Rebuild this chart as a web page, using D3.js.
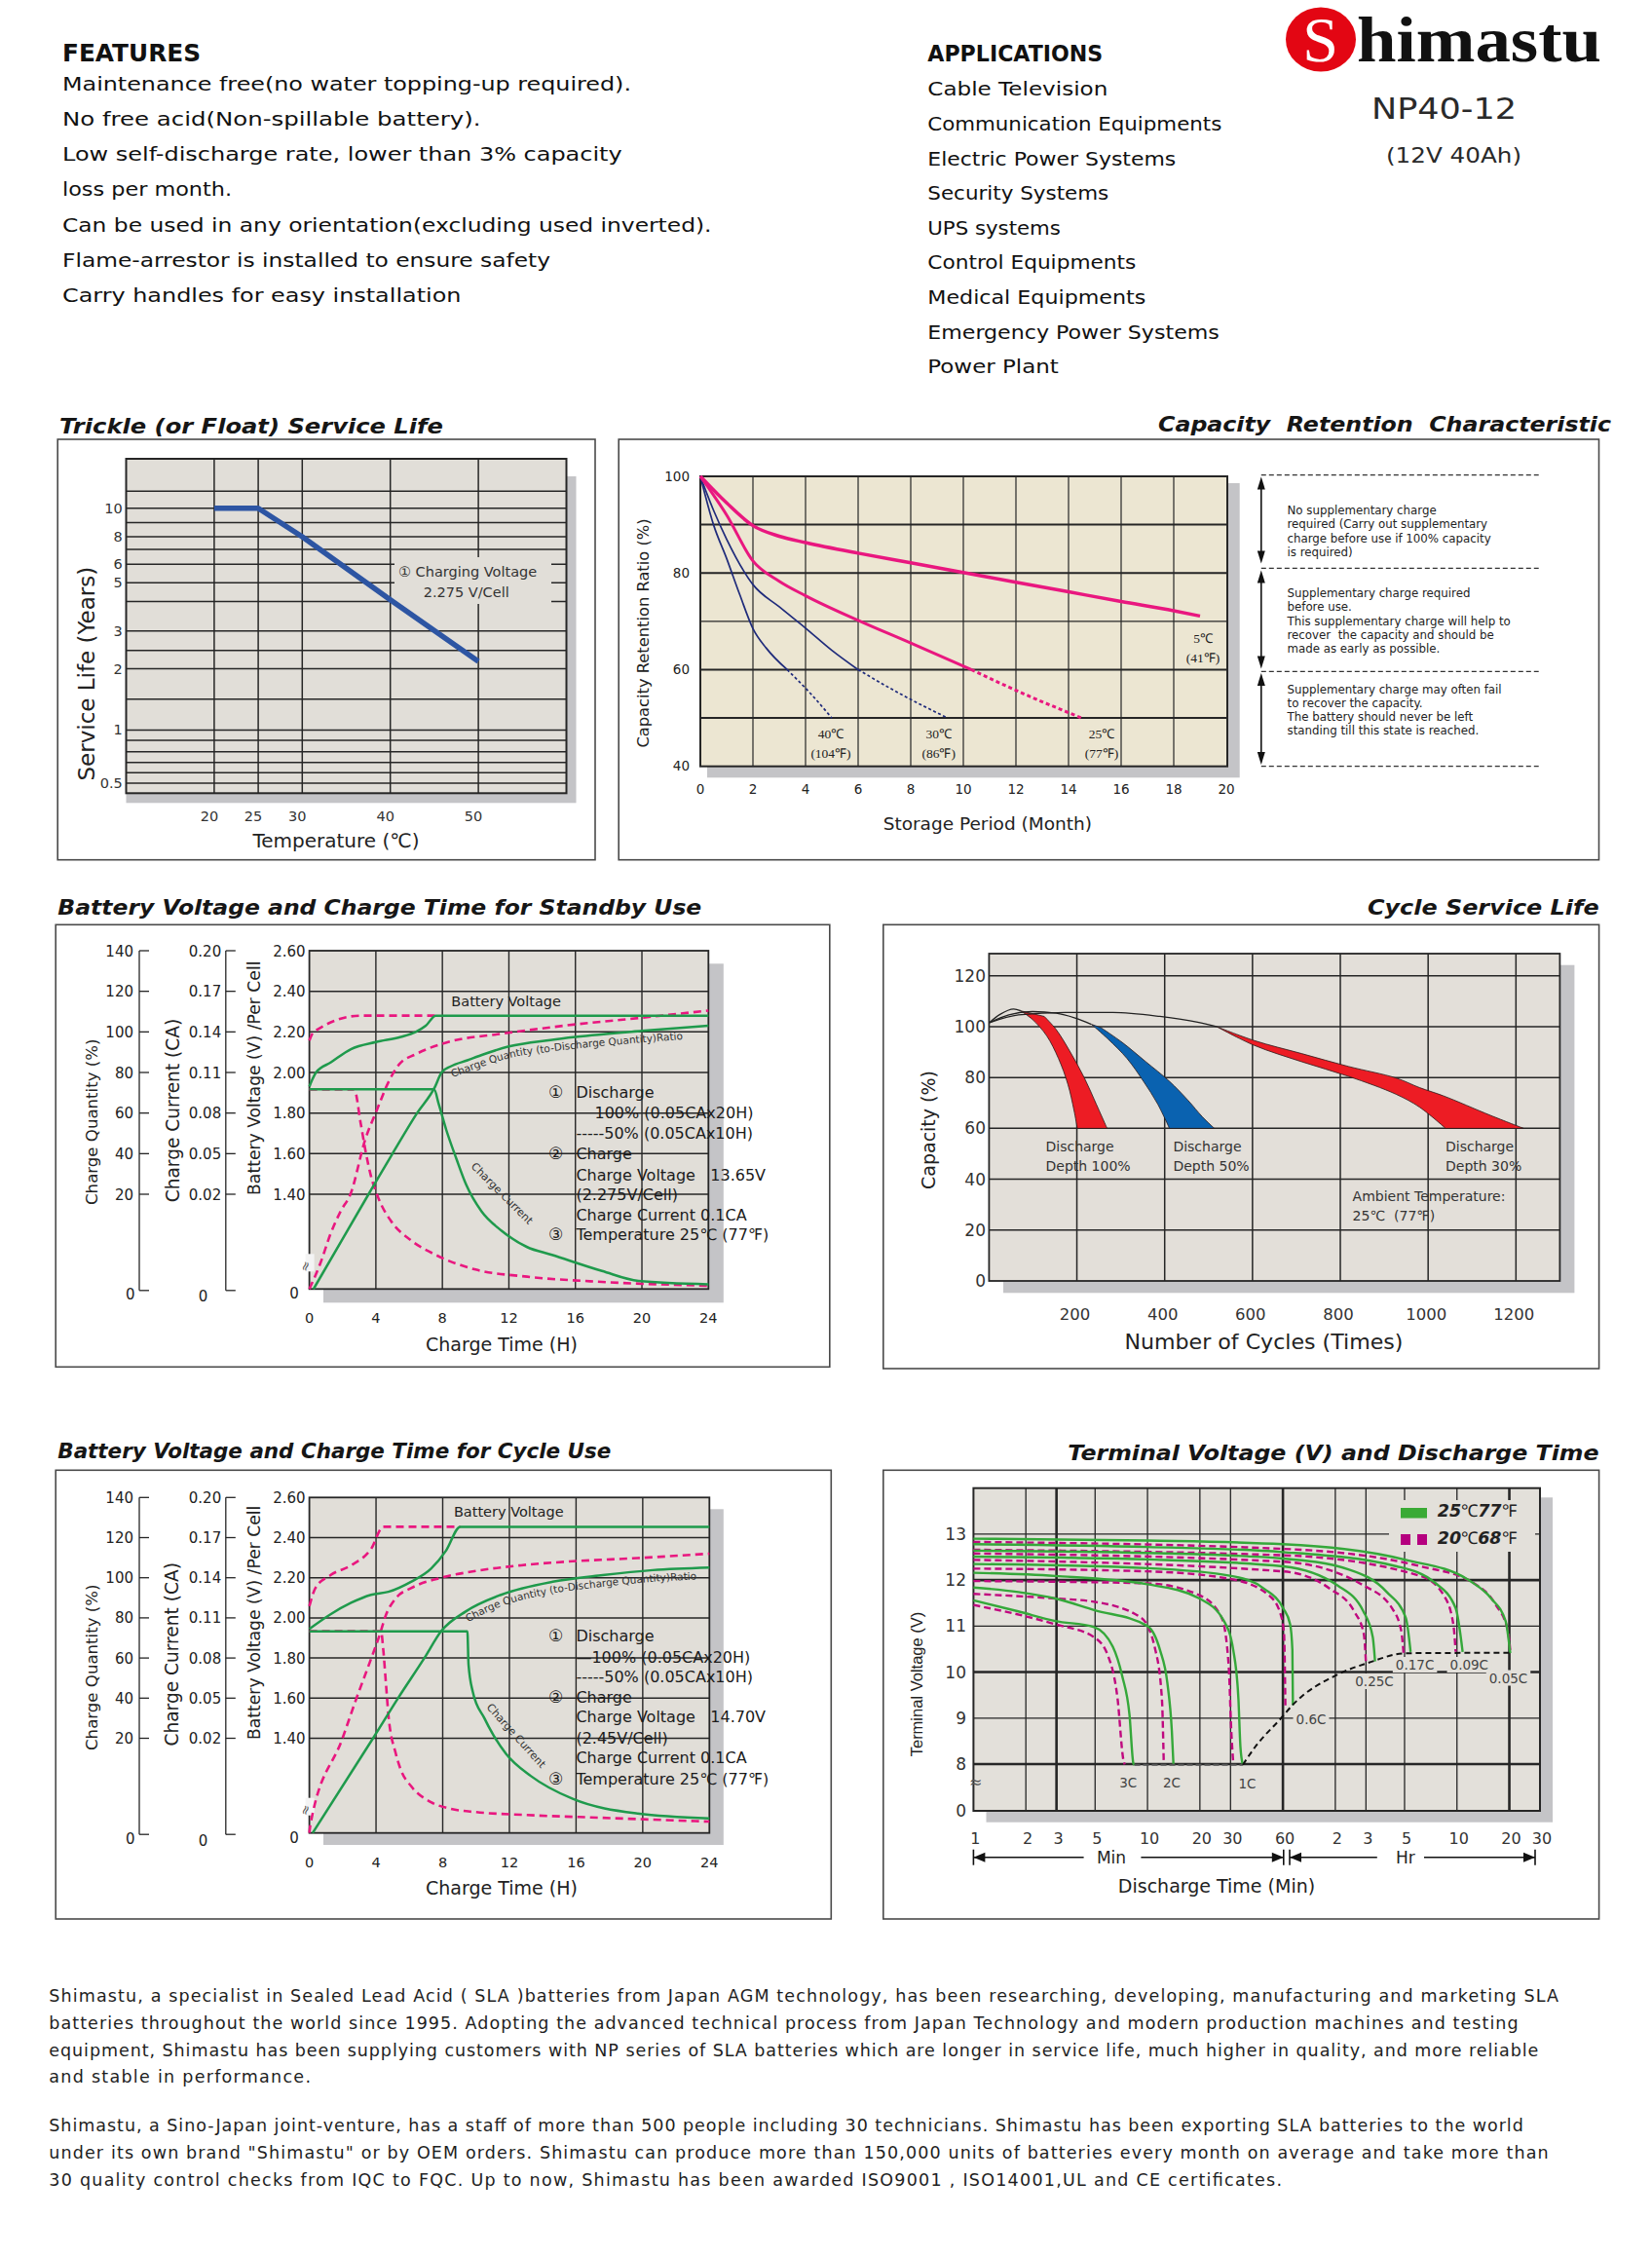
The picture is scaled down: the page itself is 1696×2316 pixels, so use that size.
<!DOCTYPE html>
<html>
<head>
<meta charset="utf-8">
<title>Shimastu NP40-12</title>
<script src="https://cdn.jsdelivr.net/npm/d3@7"></script>
<style>
html,body{margin:0;padding:0;background:#fff;}
svg{display:block;}
</style>
</head>
<body>
<svg id="page" width="1696" height="2316" xmlns="http://www.w3.org/2000/svg"></svg>
<script>
// ======================= DATA =======================
const featureLines = [
  'Maintenance free(no water topping-up required).',
  'No free acid(Non-spillable battery).',
  'Low self-discharge rate, lower than 3% capacity',
  'loss per month.',
  'Can be used in any orientation(excluding used inverted).',
  'Flame-arrestor is installed to ensure safety',
  'Carry handles for easy installation'
];
const applicationLines = ['Cable Television', 'Communication Equipments', 'Electric Power Systems',
  'Security Systems', 'UPS systems', 'Control Equipments', 'Medical Equipments',
  'Emergency Power Systems', 'Power Plant'];
const brandName = 'Shimastu';
const modelName = 'NP40-12';
const modelRating = '(12V 40Ah)';
const aboutParagraph1 = [
  'Shimastu, a specialist in Sealed Lead Acid ( SLA )batteries from Japan AGM technology, has been researching, developing, manufacturing and marketing SLA',
  'batteries throughout the world since 1995. Adopting the advanced technical process from Japan Technology and modern production machines and testing',
  'equipment, Shimastu has been supplying customers with NP series of SLA batteries which are longer in service life, much higher in quality, and more reliable',
  'and stable in performance.'
];
const aboutParagraph2 = [
  'Shimastu, a Sino-Japan joint-venture, has a staff of more than 500 people including 30 technicians. Shimastu has been exporting SLA batteries to the world',
  'under its own brand "Shimastu" or by OEM orders. Shimastu can produce more than 150,000 units of batteries every month on average and take more than',
  '30 quality control checks from IQC to FQC. Up to now, Shimastu has been awarded ISO9001 , ISO14001,UL and CE certificates.'
];

// --- Trickle (float) service life ---
const trickleTempTicks = [20, 25, 30, 40, 50];
const trickleLifeTicks = [10, 8, 6, 5, 3, 2, 1, 0.5];
const trickleLifeGrid = [0.5, 0.6, 0.7, 0.8, 0.9, 1, 1.5, 2, 2.5, 3, 4, 5, 6, 7, 8, 9, 10, 12];
const trickleTemp = [20, 25, 30, 40, 50];
const trickleLife = [10, 10, 8, 4.1, 2.2];

// --- Capacity retention (month, %) ---
const storageMonthTicks = [0, 2, 4, 6, 8, 10, 12, 14, 16, 18, 20];
const retentionTicks = [100, 80, 60, 40];
const retention5C = [[0,100],[1,94.5],[2,89.8],[3,87.6],[4,86.3],[6,84.1],[8,82.1],[10,80.1],[12,78.1],[14,76.1],[16,74.1],[18,72.2],[19,71.1]];
const retention25C = [[0,100],[1,92],[2,82.5],[3,78.3],[4,75.3],[6,70.2],[8,65.5],[10.3,60]];
const retention25CLate = [[10.3,60],[12.3,55],[14.5,50]];
const retention30C = [[0,100],[0.5,93],[1,87],[2,77.6],[3,73],[4,68.6],[5,64],[6,60]];
const retention30CLate = [[6,60],[7.6,55],[9.4,50]];
const retention40C = [[0,100],[0.5,90],[1,83],[1.5,75.5],[2,68.5],[2.5,64.5],[3.3,60]];
const retention40CLate = [[3.3,60],[4.2,55],[5,50]];
const retentionNotes = [
  ['No supplementary charge', 'required (Carry out supplementary', 'charge before use if 100% capacity', 'is required)'],
  ['Supplementary charge required', 'before use.', 'This supplementary charge will help to', 'recover  the capacity and should be', 'made as early as possible.'],
  ['Supplementary charge may often fail', 'to recover the capacity.', 'The battery should never be left', 'standing till this state is reached.']
];

// --- Charge charts: axes ---
const chargeTimeTicks = [0, 4, 8, 12, 16, 20, 24];
const chargeQtyTicks = [140, 120, 100, 80, 60, 40, 20];
const chargeCurrentTicks = [0.20, 0.17, 0.14, 0.11, 0.08, 0.05, 0.02];
const cellVoltTicks = [2.60, 2.40, 2.20, 2.00, 1.80, 1.60, 1.40];

// --- Standby use (hour, value) ---
const sbVolt100 = [[0,1.93],[0.15,1.96],[0.4,2.0],[1.3,2.05],[2.5,2.115],[4,2.15],[5.5,2.175],[6.4,2.2],[7,2.23],[7.6,2.28],[24,2.28]];
const sbVolt50 = [[0,2.157],[0.27,2.2],[3.1,2.28],[7.6,2.28]];
const sbQty100 = [[0.25,0],[3.56,20],[5.0,40],[6.48,60],[7.56,73],[7.95,80],[8.5,83],[9.5,86],[10.5,89],[12,92.8],[14.5,96],[16,97.5],[20,100.5],[24,103]];
const sbQty50 = [[0,0],[0.67,5.5],[1.27,11.6],[1.88,16.4],[2.48,20.2],[3.36,47],[4.05,61.3],[4.8,76],[5.4,84],[6.4,89],[8.5,95.3],[11.5,99],[16,103.7],[20,107],[24,110.5]];
const sbCur100 = [[0,0.0975],[7.5,0.0975],[7.78,0.0867],[8.23,0.0677],[8.84,0.0463],[9.44,0.0268],[10.35,0.0164],[11.56,0.0123],[13.07,0.0089],[14.59,0.0072],[17.6,0.0038],[19.8,0.0017],[24,0.001]];
const sbCur50 = [[0,0.0975],[2.7,0.0975],[3.09,0.0722],[3.39,0.0512],[3.69,0.0341],[4.15,0.0192],[4.9,0.0144],[6.1,0.0103],[7.6,0.0072],[10,0.0041],[13.1,0.0026],[17.6,0.0015],[24,0.0007]];

// --- Cycle use (hour, value) ---
const cuVolt100 = [[0,1.945],[1.27,2.018],[2.5,2.075],[3.7,2.115],[4.74,2.13],[6.1,2.18],[7.3,2.245],[8.2,2.335],[9.05,2.454],[24,2.454]];
const cuVolt50 = [[0,2.058],[0.36,2.148],[1.27,2.213],[2.5,2.262],[3.7,2.343],[4.44,2.454],[9.05,2.454]];
const cuQty100 = [[0.2,0],[3.82,20],[5.32,40],[6.9,60],[7.91,73.4],[9.4,83.3],[11.5,91.5],[14.6,98],[17.6,101.3],[20.6,103.8],[24,105.1]];
const cuQty50 = [[0,0],[0.06,1.7],[1.99,20],[2.83,40],[3.72,60],[4.29,73.4],[4.53,80],[5.19,89.8],[6.1,94.8],[7.9,100],[9.7,103],[12.7,106.2],[15.8,108.2],[19.7,109.8],[24,112]];
const cuCur100 = [[0,0.1],[9.48,0.1],[9.55,0.075],[9.8,0.055],[10.5,0.035],[11.8,0.0167],[13.3,0.012],[15.8,0.0072],[19.7,0.0041],[24,0.0031]];
const cuCur50 = [[0,0.1],[4.3,0.1],[4.44,0.0854],[4.59,0.0617],[4.74,0.0377],[5.19,0.0167],[5.49,0.0133],[6.1,0.0099],[7.3,0.0065],[8.5,0.0051],[10,0.0044],[13,0.0038],[17.6,0.0032],[24,0.0024]];

// --- Cycle service life (cycles, %) ---
const cycleTicks = [200, 400, 600, 800, 1000, 1200];
const cycleCapTicks = [0, 20, 40, 60, 80, 100, 120];
const envelope100 = [[0,101.5],[25,104.8],[56,106.9],[72,106.2]];
const envelope50 = [[0,101.5],[45,104.6],[99,105.9],[153,105.3],[196,103.4],[233,100.9]];
const envelope30 = [[0,101.5],[67,104.6],[174,105.6],[282,105.6],[389,104],[475,101.7],[518,100]];
const band100Early = [[72,106.2],[98.9,102.8],[131.2,96.4],[158,87.5],[179.6,77.3],[193.6,67],[201,60]];
const band100Late = [[125.8,104],[152.7,98.9],[185,90],[217.2,79.8],[244,69.6],[268.8,60]];
const band50Early = [[233.3,100.9],[271,95.1],[314,87.5],[351.6,78.5],[383.9,69.6],[410.8,60]];
const band50Late = [[254.8,99.6],[303.2,93.8],[357,86.2],[410.8,78.5],[453.8,70.9],[486,64.5],[513,60]];
const band30Early = [[518.3,100],[604.3,92.6],[711.8,86.2],[819.4,80.4],[926.9,73.4],[980.7,68.3],[1039.8,60]];
const band30Late = [[518.3,100],[604.3,94.5],[711.8,89.4],[819.4,84.3],[926.9,79.8],[980.7,76],[1034.4,72.8],[1142,65.1],[1217.2,60]];

// --- Terminal voltage vs discharge time (minutes, volts) ---
const minuteTicks = [1, 2, 3, 5, 10, 20, 30, 60, 120, 180, 300, 600, 1200, 1800];
const minuteTickLabels = ['1','2','3','5','10','20','30','60','2','3','5','10','20','30'];
const terminalVoltTicks = [13, 12, 11, 10, 9, 8];
const dischargeRates = ['3C', '2C', '1C', '0.6C', '0.25C', '0.17C', '0.09C', '0.05C'];
const discharge25C = [
  [[1,11.56],[1.81,11.32],[2.95,11.11],[4.93,10.98],[6.32,10.55],[7.16,9.91],[7.88,9.07],[8.29,8.02],[8.4,7.87]],
  [[1,11.84],[1.81,11.74],[2.95,11.6],[4.93,11.35],[10,11.0],[11.8,10.48],[13,9.77],[13.8,8.72],[14.1,7.87]],
  [[1,12.16],[2.95,12.09],[10,11.91],[19.9,11.6],[27.5,11.11],[31.1,10.48],[33.3,9.42],[34.2,8.37],[35.3,7.87]],
  [[1,12.35],[10,12.26],[30.3,12.09],[46.9,11.81],[60.2,11.39],[66,11.04],[68,10.48],[68.5,9.28]],
  [[1,12.51],[10,12.45],[60,12.3],[124,11.88],[174,11.32],[197,10.76],[203,10.23]],
  [[1,12.64],[10,12.59],[60,12.47],[144,12.23],[237,11.74],[305,11.18],[325,10.44]],
  [[1,12.78],[10,12.72],[60,12.61],[270,12.3],[446,11.95],[590,11.39],[647,10.44]],
  [[1,12.9],[10,12.86],[60,12.78],[305,12.44],[688,12.02],[944,11.6],[1142,11.11],[1214,10.41]]
];
const discharge20C = [
  [[1,11.46],[2.95,11.04],[4.93,10.76],[5.95,10.34],[6.73,9.42],[7.27,8.09],[7.4,7.95]],
  [[1,11.7],[2.95,11.6],[4.93,11.53],[9.2,11.18],[11.1,10.48],[12.1,9.42],[12.4,8.02]],
  [[1,11.98],[10,11.93],[19.9,11.67],[26.7,11.18],[29.3,10.12],[30.3,8.72],[31.1,8.02]],
  [[1,12.25],[10,12.19],[30.3,12.02],[49.9,11.67],[58.3,11.25],[60.9,10.83],[62,9.21]],
  [[1,12.44],[60,12.19],[112,11.81],[154,11.32],[175,10.83],[180,10.2]],
  [[1,12.58],[60,12.4],[175,11.88],[254,11.39],[287,10.9],[297,10.34]],
  [[1,12.66],[60,12.54],[370,12.09],[504,11.67],[572,11.04],[590,10.44]],
  [[1,12.83],[60,12.68],[370,12.3],[737,11.95],[1004,11.46],[1176,10.9],[1214,10.48]]
];
const cutoffHighRate = [[8.4,7.87],[35.3,7.87]];
const cutoffLowRate = [[35.3,7.87],[41.5,8.37],[58.6,9.0],[68,9.28],[124,9.95],[185,10.2],[305,10.41],[1214,10.42]];

// ======================= DRAWING =======================
const svg = d3.select('#page');
svg.append('rect').attr('width', 1696).attr('height', 2316).attr('fill', '#ffffff');

const SANS = "'DejaVu Sans', 'Noto Sans', sans-serif";
const ARIAL = "'Liberation Sans', Arial, sans-serif";
const SERIF = "'Liberation Serif', 'Times New Roman', serif";
const GRID = '#262626';
const BG_GRAY = '#e1ded8';
const BG_CREAM = '#ece6d2';
const SHADOW = '#c4c4c7';
const GREEN = '#1f9a4c';
const PINK = '#e9177f';
const NAVY = '#1f2b7b';

function txt(p, x, y, s, o = {}) {
  const t = p.append('text').attr('x', x).attr('y', y)
    .attr('font-family', o.family || SANS).attr('font-size', o.size || 14)
    .attr('fill', o.fill || '#1b1b1b').text(s);
  if (o.weight) t.attr('font-weight', o.weight);
  if (o.italic) t.attr('font-style', 'italic');
  if (o.anchor) t.attr('text-anchor', o.anchor);
  if (o.rotate) t.attr('transform', `rotate(${o.rotate},${x},${y})`);
  if (o.len) t.attr('textLength', o.len).attr('lengthAdjust', o.adjust || 'spacingAndGlyphs');
  if (o.pre) t.style('white-space', 'pre');
  return t;
}
function ln(p, x1, y1, x2, y2, o = {}) {
  const l = p.append('line').attr('x1', x1).attr('y1', y1).attr('x2', x2).attr('y2', y2)
    .attr('stroke', o.stroke || GRID).attr('stroke-width', o.width || 1.4);
  if (o.dash) l.attr('stroke-dasharray', o.dash);
  return l;
}
function rectXY(p, x0, y0, x1, y1, o = {}) {
  return p.append('rect').attr('x', x0).attr('y', y0).attr('width', x1 - x0).attr('height', y1 - y0)
    .attr('fill', o.fill || 'none').attr('stroke', o.stroke || 'none').attr('stroke-width', o.width || 1);
}
function panel(frame, title) {
  rectXY(svg, frame[0], frame[1], frame[2], frame[3], {stroke: '#4a4a4a', width: 1.6});
  txt(svg, title.x, title.y, title.text, {size: 21, weight: 'bold', italic: true, len: title.len, fill: '#161616', pre: true});
}
function plotArea(P, S, bg) {
  rectXY(svg, S[0], S[1], S[2], S[3], {fill: SHADOW});
  rectXY(svg, P.x0, P.y0, P.x1, P.y1, {fill: bg});
}
function plotBorder(P, w) {
  rectXY(svg, P.x0, P.y0, P.x1, P.y1, {stroke: GRID, width: w || 1.8});
}
function curve(p, gen, data, color, width, dash) {
  const path = p.append('path').attr('d', gen(data)).attr('fill', 'none')
    .attr('stroke', color).attr('stroke-width', width).attr('stroke-linejoin', 'round');
  if (dash) path.attr('stroke-dasharray', dash);
  return path;
}

// ---------------- Header ----------------
(function header() {
  txt(svg, 64, 63, 'FEATURES', {size: 24, weight: 'bold', len: 142, fill: '#111'});
  const featureLen = [584, 429.5, 574.7, 174, 666.5, 501, 409.4];
  featureLines.forEach((s, i) => txt(svg, 64, 92.7 + i * 36.2, s, {size: 20, len: featureLen[i], fill: '#111'}));
  txt(svg, 952.3, 62.7, 'APPLICATIONS', {size: 23, weight: 'bold', len: 180, fill: '#111'});
  const appLen = [185, 302, 255, 186, 136.6, 214, 224, 299.5, 134.5];
  applicationLines.forEach((s, i) => txt(svg, 952.3, 98.3 + i * 35.6, s, {size: 20, len: appLen[i], fill: '#111'}));
  svg.append('ellipse').attr('cx', 1356).attr('cy', 40.5).attr('rx', 36).attr('ry', 33).attr('fill', '#e30613');
  txt(svg, 1355.5, 62.5, brandName[0], {family: SERIF, size: 66, fill: '#ffffff', anchor: 'middle'});
  txt(svg, 1393, 63, brandName.slice(1), {family: SERIF, size: 66, weight: 'bold', fill: '#111', len: 251});
  txt(svg, 1408, 121.7, modelName, {size: 31, fill: '#2a2a2a', len: 149});
  txt(svg, 1423, 166.7, modelRating, {size: 21, fill: '#2a2a2a', len: 139});
})();

// ---------------- Company text ----------------
(function about() {
  const p1Len = [1549.7, 1508.3, 1529, 268.7];
  aboutParagraph1.forEach((s, i) => txt(svg, 50.3, 2055 + i * 27.8, s, {size: 17.5, len: p1Len[i], adjust: 'spacing', fill: '#1e1e1e'}));
  const p2Len = [1513.5, 1539.3, 1265.7];
  aboutParagraph2.forEach((s, i) => txt(svg, 50.3, 2188.3 + i * 27.85, s, {size: 17.5, len: p2Len[i], adjust: 'spacing', fill: '#1e1e1e'}));
})();

// ---------------- Trickle service life ----------------
(function trickle() {
  panel([59.2, 451, 611, 882.7], {x: 61, y: 445, text: 'Trickle (or Float) Service Life', len: 394});
  const P = {x0: 129.5, x1: 581.5, y0: 471, y1: 814.3};
  plotArea(P, [129.5, 489, 591.5, 824.3], BG_GRAY);
  const x = d3.scaleLinear([10, 60], [P.x0, P.x1]);
  // printed (non-uniform, log-like) scale of the original chart, as fractions of plot height
  const frac = [0.030, 0.061, 0.092, 0.124, 0.158, 0.189, 0.281, 0.372, 0.427, 0.485, 0.573, 0.629, 0.685, 0.729, 0.767, 0.809, 0.852, 0.903];
  const y = d3.scaleLinear(trickleLifeGrid, frac.map(f => P.y1 - f * (P.y1 - P.y0)));
  trickleLifeGrid.forEach(v => ln(svg, P.x0, y(v), P.x1, y(v), {width: 1.5}));
  trickleTempTicks.forEach(t => ln(svg, x(t), P.y0, x(t), P.y1, {width: 1.5}));
  plotBorder(P, 2);
  rectXY(svg, 405, 572, 566, 620, {fill: BG_GRAY});
  txt(svg, 409, 591.7, '① Charging Voltage', {size: 14.5, fill: '#333'});
  txt(svg, 434.7, 613, '2.275 V/Cell', {size: 14.5, fill: '#333'});
  trickleTempTicks.forEach(t => txt(svg, x(t) - 5, 843, String(t), {size: 14.5, anchor: 'middle', fill: '#333'}));
  trickleLifeTicks.forEach(v => txt(svg, 125.8, y(v) + 5, String(v), {size: 14.5, anchor: 'end', fill: '#333'}));
  txt(svg, 345, 870, 'Temperature (℃)', {size: 20, anchor: 'middle', fill: '#222'});
  txt(svg, 97.5, 691.7, 'Service Life (Years)', {size: 23, anchor: 'middle', rotate: -90, fill: '#222'});
  const gen = d3.line().x(d => x(d[0])).y(d => y(d[1]));
  curve(svg, gen, d3.zip(trickleTemp, trickleLife), '#2d55a3', 5.5);
})();

// ---------------- Capacity retention ----------------
(function retention() {
  panel([635.2, 451, 1641.5, 882.7], {x: 1189, y: 443.3, text: 'Capacity  Retention  Characteristic', len: 465});
  const P = {x0: 719, x1: 1260, y0: 489, y1: 786.7};
  plotArea(P, [726, 496, 1272.7, 798.3], BG_CREAM);
  const x = d3.scaleLinear([0, 20], [719, 1259]);
  const y = d3.scaleLinear([40, 100], [P.y1, P.y0]);
  storageMonthTicks.filter(m => m > 0 && m < 20).forEach(m => ln(svg, x(m), P.y0, x(m), P.y1, {width: 1.2}));
  [50, 60, 70, 80, 90].forEach(v => ln(svg, P.x0, y(v), P.x1, y(v), {width: v === 70 ? 1.3 : 2}));
  plotBorder(P, 2);
  storageMonthTicks.forEach(m => txt(svg, x(m), 815, String(m), {size: 13.5, anchor: 'middle', fill: '#222'}));
  retentionTicks.forEach(v => txt(svg, 708, y(v) + 4.5, String(v), {size: 13.5, anchor: 'end', fill: '#222'}));
  txt(svg, 666, 650, 'Capacity Retention Ratio (%)', {size: 16.3, anchor: 'middle', rotate: -90, fill: '#222'});
  txt(svg, 1013.8, 851.7, 'Storage Period (Month)', {size: 18.5, anchor: 'middle', fill: '#222'});
  const gen = d3.line().x(d => x(d[0])).y(d => y(d[1])).curve(d3.curveMonotoneX);
  curve(svg, gen, retention40C, NAVY, 1.7);
  curve(svg, gen, retention40CLate, NAVY, 1.7, '3,2.5');
  curve(svg, gen, retention30C, NAVY, 1.7);
  curve(svg, gen, retention30CLate, NAVY, 1.7, '3,2.5');
  curve(svg, gen, retention25C, PINK, 3);
  curve(svg, gen, retention25CLate, PINK, 3, '4,3');
  curve(svg, gen, retention5C, PINK, 3.5);
  const labels = [['40℃', '(104℉)', 853, 758], ['30℃', '(86℉)', 963.7, 758], ['25℃', '(77℉)', 1131, 758], ['5℃', '(41℉)', 1235, 660]];
  labels.forEach(l => {
    txt(svg, l[2], l[3], l[0], {family: SERIF, size: 13.5, anchor: 'middle', fill: '#222'});
    txt(svg, l[2], l[3] + 20, l[1], {family: SERIF, size: 13.5, anchor: 'middle', fill: '#222'});
  });
  // right side explanation
  [487.7, 583.3, 689.3, 786.7].forEach(yy => ln(svg, 1294.8, yy, 1579.7, yy, {width: 1.3, dash: '5,3', stroke: '#333'}));
  const ax = 1294.8;
  [[489.5, 578.5], [585.5, 686.5], [691, 785]].forEach(([ya, yb]) => {
    ln(svg, ax, ya + 8, ax, yb - 8, {width: 1.6, stroke: '#111'});
    svg.append('path').attr('d', `M${ax},${ya} L${ax - 4},${ya + 13} L${ax + 4},${ya + 13} Z`).attr('fill', '#111');
    svg.append('path').attr('d', `M${ax},${yb} L${ax - 4},${yb - 13} L${ax + 4},${yb - 13} Z`).attr('fill', '#111');
  });
  const starts = [528.3, 613.3, 711.7];
  retentionNotes.forEach((block, b) => block.forEach((s, i) =>
    txt(svg, 1321.5, starts[b] + i * 14.1, s, {size: 11.8, fill: '#222', pre: true})));
})();

// ---------------- Charge charts ----------------
function chargeChart(L, S) {
  panel(L.frame, L.title);
  const P = L.plot;
  plotArea(P, L.shadow, BG_GRAY);
  const x = d3.scaleLinear([0, 24], [P.x0, P.x1]);
  const yV = d3.scaleLinear([0, 1.4, 2.6], [P.y1, L.brk, P.y0]);
  const yQ = d3.scaleLinear([0, 20, 140], [P.y1, L.brk, P.y0]);
  const yI = d3.scaleLinear([0, 0.02, 0.2], [P.y1, L.brk, P.y0]);
  chargeTimeTicks.filter(t => t > 0 && t < 24).forEach(t => ln(svg, x(t), P.y0, x(t), P.y1, {width: 1.4}));
  cellVoltTicks.filter(v => v < 2.6).forEach(v => ln(svg, P.x0, yV(v), P.x1, yV(v), {width: 1.5}));
  plotBorder(P, 1.8);
  // break mark
  rectXY(svg, P.x0 - 4, P.y1 - 36, P.x0 + 5, P.y1 - 18, {fill: '#f4f4f4'});
  txt(svg, P.x0, P.y1 - 22, '≈', {size: 13, anchor: 'middle', fill: '#555', rotate: -70});
  // quantity axis
  const f2 = d3.format('.2f');
  ln(svg, L.qx, P.y0, L.qx, P.y1 + 1.5, {width: 1.3});
  chargeQtyTicks.forEach(q => {
    ln(svg, L.qx, yQ(q), L.qx + 10, yQ(q), {width: 1.3});
    txt(svg, L.qx - 6, yQ(q) + 5.5, String(q), {size: 15, anchor: 'end', fill: '#222'});
  });
  ln(svg, L.qx, P.y1 + 1.5, L.qx + 10, P.y1 + 1.5, {width: 1.3});
  txt(svg, L.qx - 9.3, P.y1 + 11, '0', {size: 15, anchor: 'middle', fill: '#222'});
  // current axis
  ln(svg, L.ix, P.y0, L.ix, P.y1 + 1.5, {width: 1.3});
  chargeCurrentTicks.forEach(c => {
    ln(svg, L.ix, yI(c), L.ix + 10, yI(c), {width: 1.3});
    txt(svg, L.ix - 4.6, yI(c) + 5.5, f2(c), {size: 15, anchor: 'end', fill: '#222'});
  });
  ln(svg, L.ix, P.y1 + 1.5, L.ix + 10, P.y1 + 1.5, {width: 1.3});
  txt(svg, L.ix - 23.2, P.y1 + 13, '0', {size: 15, anchor: 'middle', fill: '#222'});
  // voltage labels
  cellVoltTicks.forEach(v => txt(svg, P.x0 - 4, yV(v) + 5.5, f2(v), {size: 15, anchor: 'end', fill: '#222'}));
  txt(svg, P.x0 - 15.6, P.y1 + 10, '0', {size: 15, anchor: 'middle', fill: '#222'});
  // axis titles
  txt(svg, 100.5, L.qTitleY, 'Charge Quantity (%)', {size: 16.6, anchor: 'middle', rotate: -90, fill: '#222'});
  txt(svg, 183.5, L.iTitleY, 'Charge Current (CA)', {size: 18.6, anchor: 'middle', rotate: -90, fill: '#222'});
  txt(svg, 267, L.vTitleY, 'Battery Voltage (V) /Per Cell', {size: 17.2, anchor: 'middle', rotate: -90, fill: '#222'});
  chargeTimeTicks.forEach(t => txt(svg, x(t), P.y1 + 35, String(t), {size: 14.5, anchor: 'middle', fill: '#222'}));
  txt(svg, 515, P.y1 + 63.4, 'Charge Time (H)', {size: 19, anchor: 'middle', fill: '#222'});
  // series
  const gV = d3.line().x(d => x(d[0])).y(d => yV(d[1])).curve(d3.curveMonotoneX);
  const gQ = d3.line().x(d => x(d[0])).y(d => yQ(d[1])).curve(d3.curveMonotoneX);
  const gI = d3.line().x(d => x(d[0])).y(d => yI(d[1])).curve(d3.curveMonotoneX);
  const dash = '8,5';
  curve(svg, gI, S.cur50, PINK, 2.6, dash);
  curve(svg, gV, S.volt50, PINK, 2.6, dash);
  curve(svg, gQ, S.qty50, PINK, 2.6, dash);
  curve(svg, gQ, S.qty100, GREEN, 2.5);
  curve(svg, gV, S.volt100, GREEN, 2.5);
  curve(svg, gI, S.cur100, GREEN, 2.5);
  // curve labels
  txt(svg, L.bvLabel[0], L.bvLabel[1], 'Battery Voltage', {size: 14.5, fill: '#222'});
  const pathData = S.qty100.filter(d => d[0] >= L.qLabelFrom);
  const gQoff = d3.line().x(d => x(d[0])).y(d => yQ(d[1]) + 12).curve(d3.curveMonotoneX);
  svg.append('path').attr('id', L.id).attr('d', gQoff(pathData)).attr('fill', 'none');
  svg.append('text').attr('font-family', SANS).attr('font-size', 10.5).attr('fill', '#333')
    .append('textPath').attr('href', '#' + L.id).attr('startOffset', 2)
    .text('Charge Quantity (to-Discharge Quantity)Ratio');
  txt(svg, L.ccLabel[0], L.ccLabel[1], 'Charge Current', {size: 11, fill: '#333', rotate: L.ccLabel[2]});
  // notes
  L.notes.forEach(n => txt(svg, n[0], n[1], n[2], {size: n[3] || 16, fill: '#1b1b1b', pre: true}));
}

chargeChart({
  id: 'qpath-standby',
  frame: [57.2, 949.3, 851.8, 1403.3],
  title: {x: 59.3, y: 939.3, text: 'Battery Voltage and Charge Time for Standby Use', len: 661},
  plot: {x0: 317.6, x1: 727.3, y0: 976, y1: 1323.3},
  shadow: [332, 989.3, 742.8, 1337.3],
  brk: 1226,
  qx: 143, ix: 231.8,
  qTitleY: 1151.7, iTitleY: 1140, vTitleY: 1106.7,
  bvLabel: [463.3, 1032.7],
  qLabelFrom: 8.5,
  ccLabel: [483, 1198, 45],
  notes: [
    [563, 1126.7, '①', 17], [591.4, 1126.7, 'Discharge'],
    [610.5, 1148.3, '100% (0.05CAx20H)'], [591.4, 1169.3, '-----50% (0.05CAx10H)'],
    [563, 1190, '②', 17], [591.4, 1190, 'Charge'],
    [591.4, 1211.7, 'Charge Voltage'], [729.3, 1211.7, '13.65V'],
    [591.4, 1231.7, '(2.275V/Cell)'], [591.4, 1253.3, 'Charge Current 0.1CA'],
    [563, 1273.3, '③', 17], [591.4, 1273.3, 'Temperature 25℃ (77℉)']
  ]
}, {volt100: sbVolt100, volt50: sbVolt50, qty100: sbQty100, qty50: sbQty50, cur100: sbCur100, cur50: sbCur50});

chargeChart({
  id: 'qpath-cycle',
  frame: [57.2, 1509.3, 853.3, 1970],
  title: {x: 59.3, y: 1497.3, text: 'Battery Voltage and Charge Time for Cycle Use', len: 568},
  plot: {x0: 317.6, x1: 728.3, y0: 1537.3, y1: 1881.7},
  shadow: [332, 1549.3, 742.8, 1894],
  brk: 1784.5,
  qx: 143, ix: 231.8,
  qTitleY: 1711.7, iTitleY: 1698.3, vTitleY: 1665.8,
  bvLabel: [465.9, 1556.7],
  qLabelFrom: 9.4,
  ccLabel: [499, 1753, 48],
  notes: [
    [563, 1685, '①', 17], [591.4, 1685, 'Discharge'],
    [591.4, 1706.7, '—100% (0.05CAx20H)'], [591.4, 1726.7, '-----50% (0.05CAx10H)'],
    [563, 1748.3, '②', 17], [591.4, 1748.3, 'Charge'],
    [591.4, 1768.3, 'Charge Voltage'], [729.3, 1768.3, '14.70V'],
    [591.4, 1790, '(2.45V/Cell)'], [591.4, 1810, 'Charge Current 0.1CA'],
    [563, 1831.7, '③', 17], [591.4, 1831.7, 'Temperature 25℃ (77℉)']
  ]
}, {volt100: cuVolt100, volt50: cuVolt50, qty100: cuQty100, qty50: cuQty50, cur100: cuCur100, cur50: cuCur50});

// ---------------- Cycle service life ----------------
(function cycleLife() {
  panel([906.8, 949.3, 1641.6, 1405], {x: 1404, y: 939.3, text: 'Cycle Service Life', len: 237.6});
  const P = {x0: 1015.4, x1: 1601.4, y0: 979, y1: 1315};
  plotArea(P, [1030, 990.7, 1616.4, 1327.3], '#e3dfd9');
  const x = d3.scaleLinear([0, 1300], [P.x0, P.x1]);
  const y = d3.scaleLinear([0, 120], [P.y1, 1001.7]);
  cycleTicks.forEach(c => ln(svg, x(c), P.y0, x(c), P.y1, {width: 1.5}));
  cycleCapTicks.filter(v => v > 0).forEach(v => ln(svg, P.x0, y(v), P.x1, y(v), {width: 1.5}));
  plotBorder(P, 1.8);
  cycleTicks.forEach(c => txt(svg, x(c) - 2, 1355, String(c), {size: 16.5, anchor: 'middle', fill: '#333'}));
  cycleCapTicks.forEach(v => txt(svg, 1012, y(v) + 6, String(v), {size: 17, anchor: 'end', fill: '#333'}));
  txt(svg, 960, 1160, 'Capacity (%)', {size: 19, anchor: 'middle', rotate: -90, fill: '#222'});
  txt(svg, 1297.5, 1385, 'Number of Cycles (Times)', {size: 20.5, anchor: 'middle', fill: '#222', len: 286});
  const edge = d3.line().x(d => x(d[0])).y(d => y(d[1])).curve(d3.curveCatmullRom.alpha(0.5));
  const band = (early, late, color) => {
    const d = edge(early) + edge(late.slice().reverse()).replace(/^M/, 'L') + 'Z';
    svg.append('path').attr('d', d).attr('fill', color).attr('stroke', '#2a1a1a').attr('stroke-width', 0.8);
  };
  band(band100Early, band100Late, '#ed1c24');
  band(band50Early, band50Late, '#0a62b0');
  band(band30Early, band30Late, '#ed1c24');
  const env = d3.line().x(d => x(d[0])).y(d => y(d[1])).curve(d3.curveMonotoneX);
  [envelope100, envelope50, envelope30].forEach(e => curve(svg, env, e, '#222', 1.3));
  const lab = [[1073.5, 'Depth 100%'], [1204.4, 'Depth 50%'], [1484, 'Depth 30%']];
  lab.forEach(l => {
    txt(svg, l[0], 1181.7, 'Discharge', {size: 14, fill: '#333'});
    txt(svg, l[0], 1201.7, l[1], {size: 14, fill: '#333'});
  });
  txt(svg, 1388.6, 1233.3, 'Ambient Temperature:', {size: 14, fill: '#333'});
  txt(svg, 1388.6, 1253.3, '25℃  (77℉)', {size: 14, fill: '#333', pre: true});
})();

// ---------------- Terminal voltage ----------------
(function terminal() {
  panel([906.8, 1509.3, 1641.6, 1970], {x: 1096.3, y: 1499.3, text: 'Terminal Voltage (V) and Discharge Time', len: 545.3});
  const P = {x0: 999.4, x1: 1581, y0: 1527.7, y1: 1859};
  const TBG = '#e3e0da';
  plotArea(P, [1012.5, 1537.3, 1594, 1870.7], TBG);
  const x = d3.scaleLog([1, 1800], [P.x0, P.x1]);
  const y = d3.scaleLinear([0, 8, 14], [P.y1, 1811, P.y0]);
  const thickV = [3, 60, 1200];
  minuteTicks.filter(m => m > 1 && m < 1800).forEach(m => ln(svg, x(m), P.y0, x(m), P.y1, {width: thickV.includes(m) ? 2.6 : 1.3}));
  terminalVoltTicks.forEach(v => ln(svg, P.x0, y(v), P.x1, y(v), {width: v % 2 === 0 ? 2.6 : 1.3}));
  plotBorder(P, 2);
  // legend
  rectXY(svg, 1426, 1540, 1576, 1593, {fill: TBG});
  rectXY(svg, 1438, 1548, 1465, 1558.5, {fill: '#3aaa35'});
  rectXY(svg, 1438, 1575, 1448, 1586, {fill: '#b5007f'});
  rectXY(svg, 1455, 1575, 1465, 1586, {fill: '#b5007f'});
  const legend = (yy, a, b) => {
    const t = svg.append('text').attr('x', 1475.8).attr('y', yy).attr('font-size', 17.5).attr('fill', '#222');
    t.append('tspan').attr('font-family', SANS).attr('font-weight', 'bold').attr('font-style', 'italic').text(a);
    t.append('tspan').attr('font-family', SERIF).text('℃');
    t.append('tspan').attr('font-family', SANS).attr('font-weight', 'bold').attr('font-style', 'italic').text(b);
    t.append('tspan').attr('font-family', SERIF).text('℉');
  };
  legend(1557, '25', '77');
  legend(1585, '20', '68');
  // curves
  const gen = d3.line().x(d => x(d[0])).y(d => y(d[1])).curve(d3.curveMonotoneX);
  discharge20C.forEach(s => curve(svg, gen, s, '#c0087f', 2.4, '7,4'));
  discharge25C.forEach(s => curve(svg, gen, s, '#35a83a', 2.4));
  curve(svg, d3.line().x(d => x(d[0])).y(d => y(d[1])), cutoffHighRate, '#555', 2, '6,3');
  curve(svg, gen, cutoffLowRate, '#111', 2, '6,4');
  // rate labels
  const rateLabelPos = [[1158.3, 1835, false], [1203, 1835, false], [1280.5, 1836, false], [1346, 1769.5, true],
    [1411, 1731, true], [1452.6, 1714, true], [1508.3, 1714, true], [1548.5, 1727.5, true]];
  dischargeRates.forEach((r, i) => {
    const [lx, ly, bg] = rateLabelPos[i];
    const t = txt(svg, lx, ly, r, {size: 13.5, anchor: 'middle', fill: '#444'});
    if (bg) {
      const bb = t.node().getBBox();
      svg.insert('rect', () => t.node()).attr('x', bb.x - 3).attr('y', bb.y).attr('width', bb.width + 6)
        .attr('height', bb.height).attr('fill', TBG);
    }
  });
  // break mark
  txt(svg, 1001.8, 1835, '≈', {size: 16, anchor: 'middle', fill: '#555'});
  // axes text
  terminalVoltTicks.forEach(v => txt(svg, 992, y(v) + 6, String(v), {size: 17, anchor: 'end', fill: '#333'}));
  txt(svg, 992, P.y1 + 6, '0', {size: 17, anchor: 'end', fill: '#333'});
  minuteTicks.forEach((m, i) => txt(svg, x(m) + 2, 1893, minuteTickLabels[i], {size: 16, anchor: 'middle', fill: '#333'}));
  txt(svg, 947, 1729, 'Terminal Voltage (V)', {family: ARIAL, size: 16.5, anchor: 'middle', rotate: -90, fill: '#222'});
  txt(svg, 1249, 1943.3, 'Discharge Time (Min)', {size: 19, anchor: 'middle', fill: '#222'});
  // Min / Hr arrows
  const ay = 1906.7;
  const head = (tx, dir) => svg.append('path')
    .attr('d', `M${tx},${ay} L${tx - dir * 12},${ay - 5} L${tx - dir * 12},${ay + 5} Z`).attr('fill', '#111');
  const bar = bx => ln(svg, bx, ay - 8, bx, ay + 8, {width: 1.6, stroke: '#111'});
  bar(999.4); head(999.4, -1); ln(svg, 999.4, ay, 1112.6, ay, {width: 1.5, stroke: '#111'});
  ln(svg, 1171.4, ay, 1317.8, ay, {width: 1.5, stroke: '#111'}); head(1317.8, 1); bar(1317.8);
  bar(1324); head(1324, -1); ln(svg, 1324, ay, 1413.8, ay, {width: 1.5, stroke: '#111'});
  ln(svg, 1462, ay, 1576, ay, {width: 1.5, stroke: '#111'}); head(1576, 1); bar(1576);
  txt(svg, 1141, 1913, 'Min', {size: 17, anchor: 'middle', fill: '#222'});
  txt(svg, 1442.9, 1913, 'Hr', {size: 17, anchor: 'middle', fill: '#222'});
})();
</script>
</body>
</html>
